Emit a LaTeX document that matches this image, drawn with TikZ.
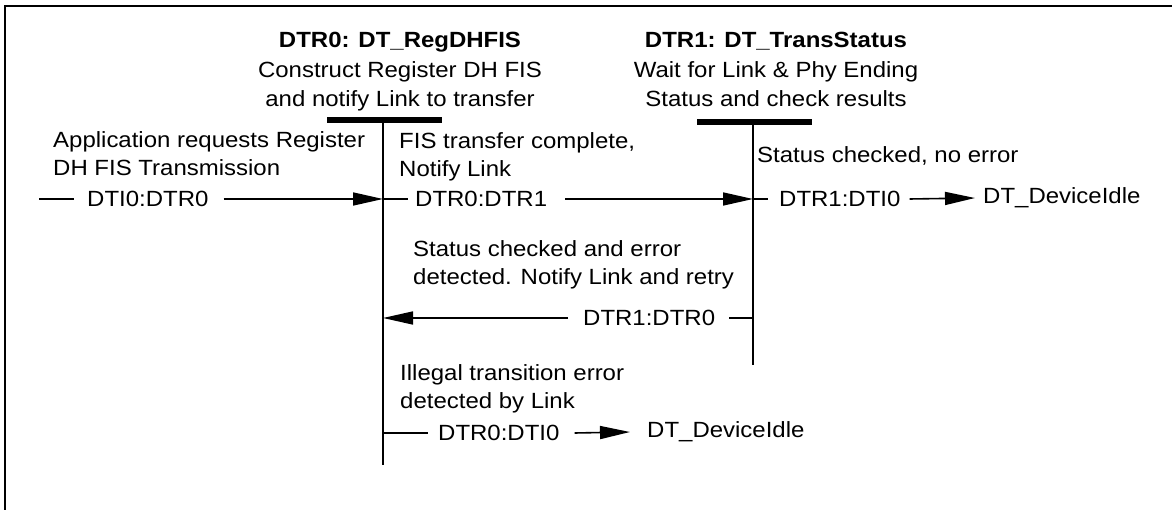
\documentclass[tikz,border=0pt]{standalone}
\usepackage{fontspec}
\setmainfont{Liberation Sans}[FakeStretch=1.09]
\usetikzlibrary{arrows.meta}
\begin{document}
\begin{tikzpicture}[x=1pt,y=-1pt,
  txt/.style={inner sep=0pt, anchor=base west, font=\fontsize{22}{28.5}\selectfont, align=left},
  ttl/.style={inner sep=0pt, anchor=base, font=\fontsize{22}{29.5}\selectfont, align=center},
  lbl/.style={inner sep=0pt, anchor=west, font=\fontsize{22}{28.5}\selectfont},
  ln/.style={line width=1.6pt},
  arr/.style={ln, -{Triangle[length=30pt,width=13pt]}},
  bar/.style={line width=6pt},
  life/.style={line width=2pt},
  frame/.style={line width=2.5pt}]
\useasboundingbox (0,0) rectangle (1176,510);
% frame
\draw[frame] (5,510) -- (5,6) -- (1172,6);
% state DTR0
\node[ttl] (t0) at (400,107) {\textbf{DTR0: DT\_RegDHFIS}\\Construct Register DH FIS\\and notify Link to transfer};
\coordinate (b0l) at (327,120);
\coordinate (b0r) at (442,120);
\coordinate (s0top) at (383,120);
\coordinate (s0bot) at (383,465);
\draw[bar] (b0l) -- (b0r);
\draw[life] (s0top) -- (s0bot);
% state DTR1
\node[ttl] (t1) at (776,107) {\textbf{DTR1: DT\_TransStatus}\\Wait for Link \& Phy Ending\\Status and check results};
\coordinate (b1l) at (697,122);
\coordinate (b1r) at (812,122);
\coordinate (s1top) at (753,122);
\coordinate (s1bot) at (753,365);
\draw[bar] (b1l) -- (b1r);
\draw[life] (s1top) -- (s1bot);
% points on lifelines
\coordinate (s0r1) at (383,199);
\coordinate (s1r1) at (753,199);
\coordinate (s0r2) at (383,318);
\coordinate (s1r2) at (753,318);
\coordinate (s0r3) at (383,433);
% condition texts
\node[txt] (c1) at (53,176) {Application requests Register\\DH FIS Transmission};
\node[txt] (c2) at (399,177) {FIS transfer complete,\\Notify Link};
\node[txt] (c3) at (757,163) {Status checked, no error};
\node[txt] (c4) at (413,285) {Status checked and error\\detected. Notify Link and retry};
\node[txt] (c5) at (400,409) {Illegal transition error\\detected by Link};
% row 1
\coordinate (in0) at (39,199);
\node[lbl] (l1) at (87,199) {DTI0:DTR0};
\draw[ln] (in0) -- ([xshift=-13pt]l1.west);
\draw[arr] ([xshift=15pt]l1.east) -- (s0r1);
\node[lbl] (l2) at (415,199) {DTR0:DTR1};
\draw[ln] (s0r1) -- ([xshift=-7pt]l2.west);
\draw[arr] ([xshift=18pt]l2.east) -- (s1r1);
\node[lbl] (l3) at (779,199) {DTR1:DTI0};
\draw[ln] (s1r1) -- ([xshift=-11pt]l3.west);
\node[lbl] (d1) at (983,198) {DT\_DeviceIdle};
\draw[arr] ([xshift=9pt]l3.east) -- ([xshift=-8pt]d1.west);
% row 2
\node[lbl] (l4) at (583,318) {DTR1:DTR0};
\draw[ln] (s1r2) -- ([xshift=14pt]l4.east);
\draw[arr] ([xshift=-15pt]l4.west) -- (s0r2);
% row 3
\node[lbl] (l5) at (438,433) {DTR0:DTI0};
\draw[ln] (s0r3) -- ([xshift=-10pt]l5.west);
\node[lbl] (d2) at (647,432) {DT\_DeviceIdle};
\draw[arr] ([xshift=15pt]l5.east) -- ([xshift=-17pt]d2.west);
\end{tikzpicture}
\end{document}
